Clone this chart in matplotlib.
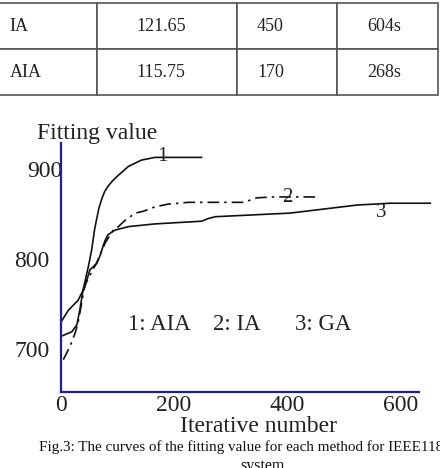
import matplotlib
matplotlib.use('Agg')
import matplotlib.pyplot as plt
import matplotlib.transforms as mtransforms

plt.rcParams['font.family'] = ['Liberation Serif', 'DejaVu Serif']

# table rows above the figure
methods = ['IA', 'AIA']
best_value = ['121.65', '115.75']
iterations = ['450', '170']
run_time = ['604s', '268s']

# fitting value curves
aia_x = [1, 20, 29, 34, 40, 49, 55, 60, 64, 68, 73, 78, 84, 92, 102, 120, 143, 167, 190, 249]
aia_y = [714, 719, 727, 743, 766, 791, 810, 832, 845, 857, 867, 875, 881, 887, 893, 903, 910, 913, 913, 913]

ia_x = [5, 17, 26, 31, 43, 64, 79, 93, 99, 114, 132, 146, 167, 190, 226, 273, 323, 347, 375, 453]
ia_y = [688, 703, 718, 729, 771, 796, 818, 832, 834, 843, 851, 853, 858, 861, 863, 863, 863, 868, 869, 869]

ga_x = [1, 14, 31, 43, 52, 64, 70, 76, 79, 84, 96, 120, 167, 249, 261, 273, 405, 524, 582, 653]
ga_y = [730, 743, 754, 769, 788, 795, 804, 816, 821, 827, 832, 836, 839, 842, 845, 847, 851, 860, 862, 862]

xticks = [0, 200, 400, 600]
yticks = [700, 800, 900]
curve_tags = ['1', '2', '3']
tag_x = [179, 400, 567]
tag_y = [914, 868, 852]
legend_items = ['1: AIA', '2: IA', '3: GA']

W, H = 440, 468
fig = plt.figure(figsize=(W / 100, H / 100), dpi=100)


def px_box(x0, y0, x1, y1):
    return [x0 / W, 1 - y1 / H, (x1 - x0) / W, (y1 - y0) / H]


def px_text(x, y, s, **kw):
    fig.text(x / W, 1 - y / H, s, **kw)


# --- table ---
tab_ax = fig.add_axes(px_box(0, 3, 438, 95))
tab_ax.axis('off')
rows = [list(r) for r in zip(methods, best_value, iterations, run_time)]
tab = tab_ax.table(cellText=rows, colWidths=[97, 140, 100, 101],
                   bbox=[0, 0, 1, 1], cellLoc='left')
tab.auto_set_font_size(False)
tab.set_fontsize(13)
col_pad = [0.1, 0.28, 0.2, 0.3]  # text offsets inside each column
for (r, c), cell in tab.get_celld().items():
    cell.set_edgecolor('#555555')
    cell.set_linewidth(1.2)
    cell.get_text().set_color('#222222')
    cell.PAD = col_pad[c]
    if c == 0:
        cell.visible_edges = 'TBR'

# --- chart ---
ax = fig.add_axes(px_box(60.5, 143, 419, 392))
ax.set_xlim(0, 633)
ax.set_ylim(652, 929)
for s in ['top', 'right']:
    ax.spines[s].set_visible(False)
for s in ['left', 'bottom']:
    ax.spines[s].set_color('#1f1f8f')
    ax.spines[s].set_linewidth(1.6)

ax.plot(aia_x, aia_y, color='#111111', lw=1.2, clip_on=False)
ax.plot(ia_x, ia_y, color='#111111', lw=1.2, ls=(0, (7, 3, 1.5, 3)), clip_on=False)
ax.plot(ga_x, ga_y, color='#111111', lw=1.2, clip_on=False)

for t, x, y in zip(curve_tags, tag_x, tag_y):
    ax.text(x, y, t, ha='center', va='center', fontsize=15, color='#222222')

ax.set_xticks(xticks)
ax.set_yticks(yticks)
ax.tick_params(length=0, labelsize=17, labelcolor='#222222')
ax.tick_params(axis='y', pad=8)
ax.tick_params(axis='x', pad=2)
# the 900 label sits further right in the original
lab = ax.yaxis.get_major_ticks()[2].label1
lab.set_transform(lab.get_transform() + mtransforms.ScaledTranslation(0.13, 0, fig.dpi_scale_trans))

px_text(37, 133, 'Fitting value', ha='left', va='center', fontsize=17, color='#222222')
px_text(259, 426, 'Iterative number', ha='center', va='center', fontsize=17, color='#222222')

for item, x in zip(legend_items, [128, 213, 295]):
    px_text(x, 324, item, ha='left', va='center', fontsize=16.5, color='#222222')

px_text(39, 447, 'Fig.3: The curves of the fitting value for each method for IEEE118',
        ha='left', va='center', fontsize=10.9, color='#111111')
px_text(263, 466, 'system', ha='center', va='center', fontsize=11.5, color='#111111')

fig.savefig('out.png', dpi=100)
